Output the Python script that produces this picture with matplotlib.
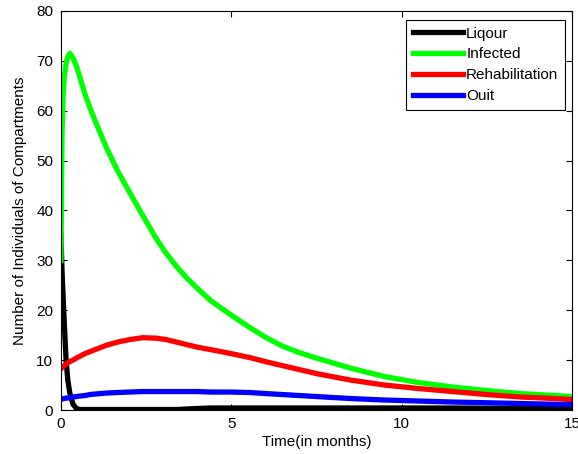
import matplotlib
matplotlib.use('Agg')
import matplotlib.pyplot as plt

# data
t = [0, 0.03, 0.06, 0.1, 0.15, 0.2, 0.26, 0.35, 0.45, 0.56, 0.7, 0.85, 1.0,
     1.34, 1.65, 2.0, 2.4, 2.8, 3.1, 3.4, 3.7, 4.0, 4.4, 5.0, 5.55, 6.0, 6.5,
     7.0, 7.5, 8.5, 9.5, 10.5, 11.5, 12.5, 13.5, 14.5, 15]
liqour = [35, 28, 23, 17, 10, 6, 3.4, 1.2, 0.3, 0.1, 0.1, 0.1, 0.1, 0.1, 0.1,
          0.1, 0.1, 0.1, 0.1, 0.1, 0.2, 0.3, 0.4, 0.4, 0.4, 0.4, 0.4, 0.4,
          0.4, 0.4, 0.4, 0.4, 0.4, 0.35, 0.3, 0.3, 0.3]
infected = [30, 55, 63, 67, 69.5, 70.8, 71.5, 70.6, 69.0, 66.6, 63.4, 60.6,
            58.0, 52.5, 48.1, 43.8, 39.0, 34.3, 31.3, 28.7, 26.4, 24.4, 21.9,
            19.0, 16.5, 14.6, 12.8, 11.5, 10.4, 8.4, 6.7, 5.5, 4.6, 3.9, 3.3,
            2.9, 2.7]
rehab = [8.3, 8.5, 8.7, 8.9, 9.2, 9.5, 9.7, 10.0, 10.4, 10.8, 11.3, 11.7, 12.1,
         13.0, 13.6, 14.1, 14.5, 14.4, 14.1, 13.6, 13.1, 12.6, 12.1, 11.3,
         10.5, 9.7, 8.9, 8.1, 7.3, 6.0, 5.0, 4.3, 3.7, 3.1, 2.6, 2.3, 2.1]
quit_ = [2.2, 2.2, 2.3, 2.3, 2.4, 2.4, 2.5, 2.6, 2.7, 2.8, 2.9, 3.1, 3.2, 3.4,
         3.5, 3.6, 3.7, 3.7, 3.7, 3.7, 3.7, 3.7, 3.6, 3.6, 3.5, 3.3, 3.1, 2.9,
         2.7, 2.3, 2.0, 1.8, 1.6, 1.45, 1.3, 1.15, 1.1]
labels = ['Liqour', 'Infected', 'Rehabilitation', 'Ouit']

plt.rcParams['font.family'] = ['Liberation Sans', 'DejaVu Sans']
plt.rcParams['font.size'] = 11

fig = plt.figure(figsize=(5.78, 4.54), dpi=100)
ax = fig.add_axes([0.1055, 0.0969, 0.884, 0.879])

lw = 3.8
ax.plot(t, liqour, color='black', lw=lw, label=labels[0])
ax.plot(t, infected, color='#00ff00', lw=lw, label=labels[1])
ax.plot(t, rehab, color='#ff0000', lw=lw, label=labels[2])
ax.plot(t, quit_, color='#0000ff', lw=lw, label=labels[3])

ax.set_xlim(0, 15)
ax.set_ylim(0, 80)
ax.set_xticks([0, 5, 10, 15])
ax.set_yticks(range(0, 81, 10))
ax.tick_params(direction='in', top=True, right=True, length=4, width=0.8)
ax.tick_params(axis='y', pad=5.5)
ax.tick_params(axis='x', pad=5)
for s in ax.spines.values():
    s.set_linewidth(0.8)

ax.set_xlabel('Time(in months)', labelpad=3)
ax.set_ylabel('Number of Individuals of Compartments', labelpad=7)

leg = ax.legend(loc='upper right', bbox_to_anchor=(0.987, 0.978),
                borderaxespad=0, fancybox=False, framealpha=1,
                edgecolor='black', handlelength=3.3, handletextpad=0.2,
                labelspacing=0.45, borderpad=0.45)
leg.get_frame().set_linewidth(0.8)

fig.savefig('out.png', dpi=100)
